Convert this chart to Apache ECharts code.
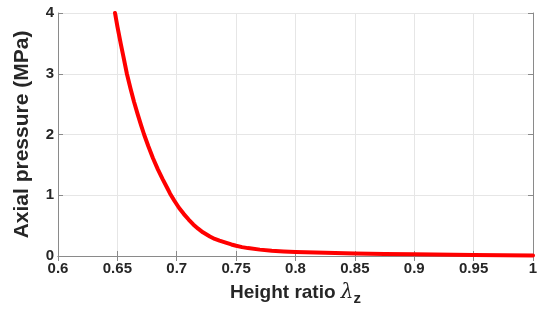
<!DOCTYPE html>
<html>
<head>
<meta charset="utf-8">
<script src="https://cdn.jsdelivr.net/npm/echarts@6/dist/echarts.min.js"></script>
<style>html,body{margin:0;padding:0;background:#fff;}#c{width:550px;height:320px;}</style>
</head>
<body>
<div id="c"></div>
<script>
// Height ratio (x) and axial pressure in MPa (y)
var heightRatio = [0.648, 0.650, 0.653, 0.655, 0.658, 0.661, 0.664, 0.667, 0.670, 0.6725, 0.676, 0.680, 0.684, 0.688, 0.692, 0.6943, 0.698, 0.702, 0.706, 0.710, 0.7139, 0.718, 0.722, 0.7279, 0.732, 0.736, 0.7419, 0.746, 0.750, 0.755, 0.760, 0.770, 0.780, 0.790, 0.800, 0.825, 0.850, 0.875, 0.900, 0.950, 1.000];
var axialPressure = [4.00, 3.78, 3.48, 3.29, 3.00, 2.76, 2.54, 2.34, 2.15, 2.00, 1.81, 1.61, 1.43, 1.27, 1.12, 1.03, 0.91, 0.79, 0.69, 0.60, 0.52, 0.45, 0.39, 0.32, 0.28, 0.252, 0.215, 0.19, 0.168, 0.146, 0.13, 0.105, 0.088, 0.076, 0.067, 0.052, 0.042, 0.034, 0.027, 0.017, 0.010];
var xTicks = ['0.6', '0.65', '0.7', '0.75', '0.8', '0.85', '0.9', '0.95', '1'];
var yTicks = ['0', '1', '2', '3', '4'];

var font = 'Liberation Sans, Arial, sans-serif';
var txt = '#262626';
var axisGray = '#8a8a8a';

var data = heightRatio.map(function (x, i) { return [x, axialPressure[i]]; });

var chart = echarts.init(document.getElementById('c'), null, { renderer: 'canvas' });
chart.setOption({
  animation: false,
  backgroundColor: '#ffffff',
  grid: { left: 58, right: 17, top: 13, bottom: 64 },
  xAxis: [{
    type: 'value', min: 0.6, max: 1, interval: 0.05,
    name: 'Height ratio {l|λ}{s|z}', nameLocation: 'middle', nameGap: 23,
    nameTextStyle: {
      fontFamily: font, fontWeight: 'bold', fontSize: 19, color: txt,
      rich: {
        l: { fontFamily: 'DejaVu Serif, serif', fontStyle: 'italic', fontSize: 20, color: txt, fontWeight: 'normal' },
        s: { fontFamily: font, fontWeight: 'bold', fontSize: 15, color: txt, padding: [12, 0, 0, 0] }
      }
    },
    axisLine: { show: true, lineStyle: { color: axisGray, width: 1 } },
    axisTick: { show: true, inside: true, length: 5, lineStyle: { color: axisGray } },
    axisLabel: {
      fontFamily: font, fontWeight: 'bold', fontSize: 15, color: txt, margin: 5,
      formatter: function (v) { var i = Math.round((v - 0.6) / 0.05); return xTicks[i]; }
    },
    splitLine: { show: true, lineStyle: { color: '#e6e6e6', width: 1 } }
  }, {
    type: 'value', min: 0.6, max: 1, interval: 0.05, position: 'top',
    axisLine: { show: true, lineStyle: { color: axisGray, width: 1 } },
    axisTick: { show: true, inside: true, length: 5, lineStyle: { color: axisGray } },
    axisLabel: { show: false }, splitLine: { show: false }
  }],
  yAxis: [{
    type: 'value', min: 0, max: 4, interval: 1,
    name: 'Axial pressure (MPa)', nameLocation: 'middle', nameGap: 25, nameRotate: 90,
    nameTextStyle: { fontFamily: font, fontWeight: 'bold', fontSize: 21, color: txt },
    axisLine: { show: true, lineStyle: { color: axisGray, width: 1 } },
    axisTick: { show: true, inside: true, length: 5, lineStyle: { color: axisGray } },
    axisLabel: {
      fontFamily: font, fontWeight: 'bold', fontSize: 15, color: txt, margin: 4,
      formatter: function (v) { return yTicks[Math.round(v)]; }
    },
    splitLine: { show: true, lineStyle: { color: '#e6e6e6', width: 1 } }
  }, {
    type: 'value', min: 0, max: 4, interval: 1, position: 'right',
    axisLine: { show: true, lineStyle: { color: axisGray, width: 1 } },
    axisTick: { show: true, inside: true, length: 5, lineStyle: { color: axisGray } },
    axisLabel: { show: false }, splitLine: { show: false }
  }],
  series: [{
    type: 'line', data: data, smooth: false, showSymbol: false,
    lineStyle: { color: '#ff0000', width: 4, join: 'round', cap: 'round' },
    itemStyle: { color: '#ff0000' }
  }]
});
</script>
</body>
</html>
